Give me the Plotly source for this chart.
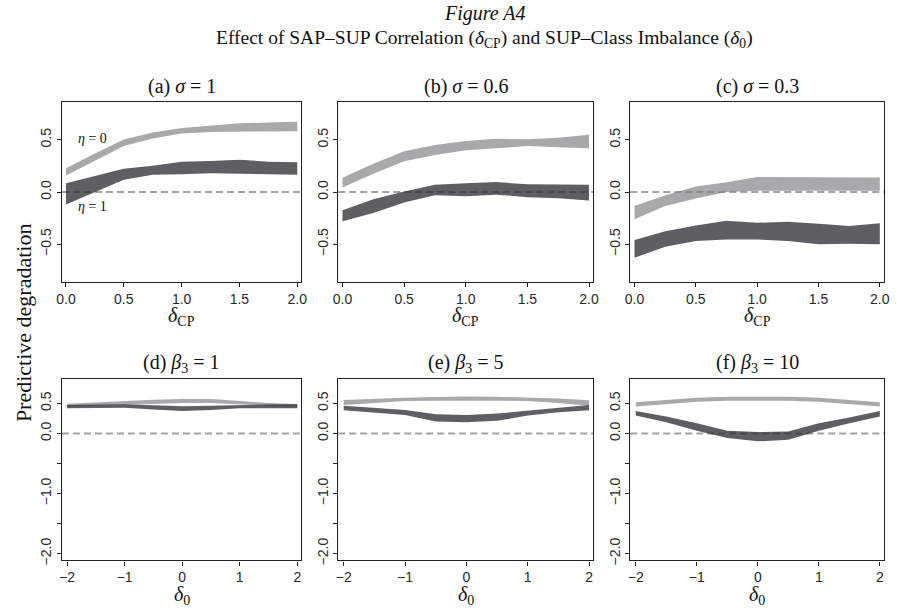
import plotly.graph_objects as go

# ---------------- data ----------------
xs_cp = [0, 0.25, 0.5, 0.75, 1.0, 1.25, 1.5, 1.75, 2.0]
xs_d0 = [-2, -1.5, -1, -0.5, 0, 0.5, 1, 1.5, 2]

# panel (a) sigma = 1
a_eta0_hi = [0.228, 0.37, 0.503, 0.57, 0.614, 0.639, 0.658, 0.667, 0.674]
a_eta0_lo = [0.158, 0.297, 0.44, 0.513, 0.56, 0.576, 0.582, 0.582, 0.582]
a_eta1_hi = [0.085, 0.15, 0.222, 0.253, 0.29, 0.297, 0.31, 0.29, 0.285]
a_eta1_lo = [-0.12, -0.003, 0.117, 0.165, 0.171, 0.18, 0.18, 0.171, 0.165]
# panel (b) sigma = 0.6
b_eta0_hi = [0.138, 0.27, 0.39, 0.45, 0.49, 0.51, 0.505, 0.52, 0.55]
b_eta0_lo = [0.044, 0.175, 0.295, 0.356, 0.40, 0.42, 0.44, 0.43, 0.42]
b_eta1_hi = [-0.175, -0.07, 0.005, 0.07, 0.085, 0.095, 0.075, 0.07, 0.07]
b_eta1_lo = [-0.28, -0.2, -0.1, -0.03, -0.04, -0.025, -0.05, -0.06, -0.08]
# panel (c) sigma = 0.3
c_eta0_hi = [-0.135, -0.03, 0.053, 0.094, 0.145, 0.145, 0.145, 0.138, 0.14]
c_eta0_lo = [-0.26, -0.135, -0.063, 0.0, 0.012, 0.012, 0.012, 0.012, 0.012]
c_eta1_hi = [-0.46, -0.375, -0.32, -0.275, -0.295, -0.285, -0.305, -0.325, -0.30]
c_eta1_lo = [-0.63, -0.525, -0.47, -0.455, -0.455, -0.47, -0.50, -0.495, -0.50]
# panel (d) beta3 = 1
d_eta0_hi = [0.495, 0.52, 0.539, 0.56, 0.572, 0.572, 0.539, 0.506, 0.49]
d_eta0_lo = [0.45, 0.47, 0.484, 0.495, 0.506, 0.506, 0.484, 0.462, 0.45]
d_eta1_hi = [0.473, 0.478, 0.484, 0.47, 0.451, 0.46, 0.473, 0.48, 0.484]
d_eta1_lo = [0.418, 0.424, 0.429, 0.40, 0.374, 0.39, 0.418, 0.418, 0.418]
# panel (e) beta3 = 5
e_eta0_hi = [0.556, 0.578, 0.594, 0.608, 0.616, 0.61, 0.60, 0.58, 0.55]
e_eta0_lo = [0.473, 0.51, 0.539, 0.545, 0.55, 0.545, 0.539, 0.505, 0.462]
e_eta1_hi = [0.462, 0.43, 0.39, 0.319, 0.308, 0.33, 0.374, 0.43, 0.473]
e_eta1_lo = [0.385, 0.352, 0.308, 0.198, 0.187, 0.209, 0.297, 0.352, 0.385]
# panel (f) beta3 = 10
f_eta0_hi = [0.517, 0.56, 0.594, 0.61, 0.616, 0.61, 0.594, 0.56, 0.517]
f_eta0_lo = [0.45, 0.49, 0.528, 0.545, 0.55, 0.545, 0.528, 0.49, 0.45]
f_eta1_hi = [0.374, 0.28, 0.17, 0.044, 0.022, 0.033, 0.17, 0.264, 0.374]
f_eta1_lo = [0.297, 0.187, 0.044, -0.077, -0.132, -0.105, 0.044, 0.17, 0.28]

panel_titles = ["(a) <i>σ</i> = 1", "(b) <i>σ</i> = 0.6", "(c) <i>σ</i> = 0.3",
                "(d) <i>β</i><sub>3</sub> = 1", "(e) <i>β</i><sub>3</sub> = 5",
                "(f) <i>β</i><sub>3</sub> = 10"]

top_xticks = [0.0, 0.5, 1.0, 1.5, 2.0]
top_xticktext = ["0.0", "0.5", "1.0", "1.5", "2.0"]
top_yticks = [-0.5, 0.0, 0.5]
top_yticktext = ["−0.5", "0.0", "0.5"]
bot_xticks = [-2, -1, 0, 1, 2]
bot_xticktext = ["−2", "−1", "0", "1", "2"]
bot_yticks = [-2.0, -1.0, 0.0, 0.5]
bot_yticktext = ["−2.0", "−1.0", "0.0", "0.5"]
bot_yminor = [-1.5, -0.5]

# ---------------- layout geometry ----------------
W, H = 897, 615
col_px = [(56.7, 299.3), (336.7, 595.3), (632.7, 890.0)]
row_px = [(102.7, 284.5), (381.7, 565.0)]

LIGHT = "rgba(128,128,131,0.68)"
DARK = "rgba(42,42,47,0.75)"
SERIF = "Liberation Serif"
SANS = "Liberation Sans"

panels = [
    (xs_cp, a_eta0_hi, a_eta0_lo, a_eta1_hi, a_eta1_lo),
    (xs_cp, b_eta0_hi, b_eta0_lo, b_eta1_hi, b_eta1_lo),
    (xs_cp, c_eta0_hi, c_eta0_lo, c_eta1_hi, c_eta1_lo),
    (xs_d0, d_eta0_hi, d_eta0_lo, d_eta1_hi, d_eta1_lo),
    (xs_d0, e_eta0_hi, e_eta0_lo, e_eta1_hi, e_eta1_lo),
    (xs_d0, f_eta0_hi, f_eta0_lo, f_eta1_hi, f_eta1_lo),
]

fig = go.Figure()
layout = dict(width=W, height=H, margin=dict(l=0, r=0, t=0, b=0),
              plot_bgcolor="white", paper_bgcolor="white", showlegend=False)
annotations = []
shapes = []

for i, (xs, h0, l0, h1, l1) in enumerate(panels):
    r, c = divmod(i, 3)
    xn = "x" if i == 0 else f"x{i+1}"
    yn = "y" if i == 0 else f"y{i+1}"
    xk = "xaxis" if i == 0 else f"xaxis{i+1}"
    yk = "yaxis" if i == 0 else f"yaxis{i+1}"
    x0p, x1p = col_px[c]
    y0p, y1p = row_px[r]
    xdom = [x0p / W, x1p / W]
    ydom = [1 - y1p / H, 1 - y0p / H]
    for hi, lo, col in ((h0, l0, LIGHT), (h1, l1, DARK)):
        fig.add_trace(go.Scatter(x=list(xs) + list(xs)[::-1], y=list(hi) + list(lo)[::-1],
                                 fill="toself", fillcolor=col, mode="lines",
                                 line=dict(width=0, color=col), hoverinfo="skip",
                                 xaxis=xn, yaxis=yn))
    common = dict(showline=True, mirror=True, linecolor="#222", linewidth=1.2,
                  ticks="outside", ticklen=4, tickwidth=1, tickcolor="#222",
                  tickfont=dict(family=SANS, size=14, color="#2a2a2a"),
                  showgrid=False, zeroline=False, fixedrange=True)
    if r == 0:
        xr = [-0.035, 2.035]
        yr = [-0.864, 0.864]
        xt, xtt, yt, ytt = top_xticks, top_xticktext, top_yticks, top_yticktext
        xtitle = "<i>δ</i><sub>CP</sub>"
        yminor = None
    else:
        xr = [-2.09, 2.07]
        yr = [-2.112, 0.912]
        xt, xtt, yt, ytt = bot_xticks, bot_xticktext, bot_yticks, bot_yticktext
        xtitle = "<i>δ</i><sub>0</sub>"
        yminor = dict(tickvals=bot_yminor, ticks="outside", ticklen=4,
                      tickwidth=1, tickcolor="#222", showgrid=False)
    layout[xk] = dict(common, domain=xdom, range=xr, tickvals=xt, ticktext=xtt,
                      anchor=yn)
    ya = dict(common, domain=ydom, range=yr, tickvals=yt, ticktext=ytt,
              tickangle=-90, anchor=xn)
    if yminor:
        ya["minor"] = yminor
    layout[yk] = ya
    # zero reference line
    shapes.append(dict(type="line", xref=f"{xn} domain", yref=yn, x0=0, x1=1, y0=0, y1=0,
                       line=dict(color="#a3a3a3", width=2, dash="7px,4px"), layer="below"))
    cx = (x0p + x1p) / 2 / W
    # panel title
    annotations.append(dict(text=panel_titles[i], x=cx, y=1 - (y0p - 15) / H,
                            xref="paper", yref="paper", showarrow=False,
                            xanchor="center", yanchor="middle",
                            font=dict(family=SERIF, size=20, color="#111")))
    # x axis title
    annotations.append(dict(text=xtitle, x=cx, y=1 - (y1p + 35) / H,
                            xref="paper", yref="paper", showarrow=False,
                            xanchor="center", yanchor="middle",
                            font=dict(family=SERIF, size=20, color="#111")))

# eta labels in panel (a)
annotations.append(dict(text="<i>η</i> = 0", x=0.23, y=0.51, xref="x", yref="y",
                        showarrow=False, font=dict(family=SERIF, size=14, color="#111")))
annotations.append(dict(text="<i>η</i> = 1", x=0.23, y=-0.135, xref="x", yref="y",
                        showarrow=False, font=dict(family=SERIF, size=14, color="#111")))

# figure titles
annotations.append(dict(text="<i>Figure A4</i>", x=485 / W, y=1 - 14 / H,
                        xref="paper", yref="paper", showarrow=False,
                        xanchor="center", yanchor="middle",
                        font=dict(family=SERIF, size=20, color="#111")))
annotations.append(dict(text="Effect of SAP–SUP Correlation (<i>δ</i><sub>CP</sub>) and SUP–Class Imbalance (<i>δ</i><sub>0</sub>)",
                        x=485 / W, y=1 - 39 / H,
                        xref="paper", yref="paper", showarrow=False,
                        xanchor="center", yanchor="middle",
                        font=dict(family=SERIF, size=19.5, color="#111")))
# y-axis title
annotations.append(dict(text="Predictive degradation", x=18 / W, y=1 - 325 / H,
                        xref="paper", yref="paper", showarrow=False, textangle=-90,
                        xanchor="center", yanchor="middle",
                        font=dict(family=SERIF, size=22, color="#111")))

layout["annotations"] = annotations
layout["shapes"] = shapes
fig.update_layout(**layout)
fig.write_html("out.html")
